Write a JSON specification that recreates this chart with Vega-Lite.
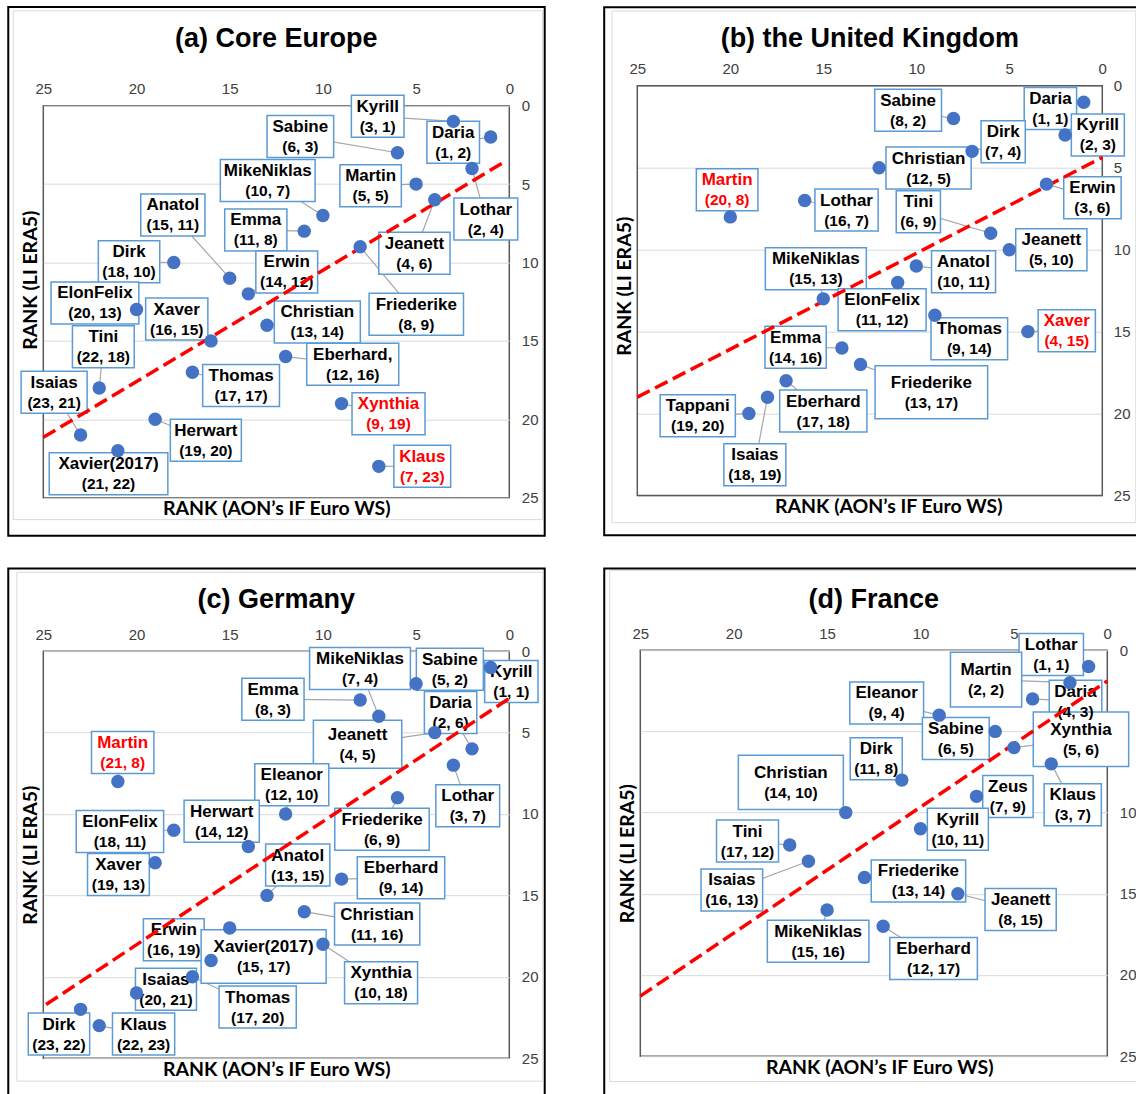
{
"$schema": "https://vega.github.io/schema/vega-lite/v6.json",
"background": "white",
"padding": {"left": 6.3, "top": 4.7, "right": 0, "bottom": 0},
"datasets": {
"pts": [
{"p":"a","name":"Kyrill","coord":"(3, 1)","x":3,"y":1,"lx":7.06,"ly":0.68,"hl":false},
{"p":"a","name":"Sabine","coord":"(6, 3)","x":6,"y":3,"lx":11.21,"ly":1.96,"hl":false},
{"p":"a","name":"Daria","coord":"(1, 2)","x":1,"y":2,"lx":3.01,"ly":2.33,"hl":false},
{"p":"a","name":"MikeNiklas","coord":"(10, 7)","x":10,"y":7,"lx":12.96,"ly":4.77,"hl":false},
{"p":"a","name":"Martin","coord":"(5, 5)","x":5,"y":5,"lx":7.44,"ly":5.10,"hl":false},
{"p":"a","name":"Lothar","coord":"(2, 4)","x":2,"y":4,"lx":1.26,"ly":7.23,"hl":false},
{"p":"a","name":"Anatol","coord":"(15, 11)","x":15,"y":11,"lx":18.05,"ly":6.97,"hl":false},
{"p":"a","name":"Emma","coord":"(11, 8)","x":11,"y":8,"lx":13.60,"ly":7.92,"hl":false},
{"p":"a","name":"Jeanett","coord":"(4, 6)","x":4,"y":6,"lx":5.09,"ly":9.41,"hl":false},
{"p":"a","name":"Dirk","coord":"(18, 10)","x":18,"y":10,"lx":20.40,"ly":9.96,"hl":false},
{"p":"a","name":"Erwin","coord":"(14, 12)","x":14,"y":12,"lx":11.94,"ly":10.60,"hl":false},
{"p":"a","name":"ElonFelix","coord":"(20, 13)","x":20,"y":13,"lx":22.23,"ly":12.58,"hl":false},
{"p":"a","name":"Friederike","coord":"(8, 9)","x":8,"y":9,"lx":4.99,"ly":13.30,"hl":false},
{"p":"a","name":"Xaver","coord":"(16, 15)","x":16,"y":15,"lx":17.84,"ly":13.61,"hl":false},
{"p":"a","name":"Christian","coord":"(13, 14)","x":13,"y":14,"lx":10.30,"ly":13.79,"hl":false},
{"p":"a","name":"Tini","coord":"(22, 18)","x":22,"y":18,"lx":21.78,"ly":15.37,"hl":false},
{"p":"a","name":"Eberhard,","coord":"(12, 16)","x":12,"y":16,"lx":8.40,"ly":16.49,"hl":false},
{"p":"a","name":"Thomas","coord":"(17, 17)","x":17,"y":17,"lx":14.39,"ly":17.85,"hl":false},
{"p":"a","name":"Isaias","coord":"(23, 21)","x":23,"y":21,"lx":24.42,"ly":18.27,"hl":false},
{"p":"a","name":"Xynthia","coord":"(9, 19)","x":9,"y":19,"lx":6.48,"ly":19.64,"hl":true},
{"p":"a","name":"Herwart","coord":"(19, 20)","x":19,"y":20,"lx":16.28,"ly":21.33,"hl":false},
{"p":"a","name":"Xavier(2017)","coord":"(21, 22)","x":21,"y":22,"lx":21.50,"ly":23.48,"hl":false},
{"p":"a","name":"Klaus","coord":"(7, 23)","x":7,"y":23,"lx":4.67,"ly":23.00,"hl":true},
{"p":"b","name":"Sabine","coord":"(8, 2)","x":8,"y":2,"lx":10.44,"ly":1.49,"hl":false},
{"p":"b","name":"Daria","coord":"(1, 1)","x":1,"y":1,"lx":2.79,"ly":1.39,"hl":false},
{"p":"b","name":"Kyrill","coord":"(2, 3)","x":2,"y":3,"lx":0.24,"ly":3.00,"hl":false},
{"p":"b","name":"Dirk","coord":"(7, 4)","x":7,"y":4,"lx":5.33,"ly":3.42,"hl":false},
{"p":"b","name":"Christian","coord":"(12, 5)","x":12,"y":5,"lx":9.34,"ly":5.02,"hl":false},
{"p":"b","name":"Martin","coord":"(20, 8)","x":20,"y":8,"lx":20.17,"ly":6.35,"hl":true},
{"p":"b","name":"Erwin","coord":"(3, 6)","x":3,"y":6,"lx":0.53,"ly":6.83,"hl":false},
{"p":"b","name":"Lothar","coord":"(16, 7)","x":16,"y":7,"lx":13.75,"ly":7.58,"hl":false},
{"p":"b","name":"Tini","coord":"(6, 9)","x":6,"y":9,"lx":9.89,"ly":7.69,"hl":false},
{"p":"b","name":"Jeanett","coord":"(5, 10)","x":5,"y":10,"lx":2.74,"ly":10.00,"hl":false},
{"p":"b","name":"MikeNiklas","coord":"(15, 13)","x":15,"y":13,"lx":15.40,"ly":11.16,"hl":false},
{"p":"b","name":"Anatol","coord":"(10, 11)","x":10,"y":11,"lx":7.46,"ly":11.34,"hl":false},
{"p":"b","name":"ElonFelix","coord":"(11, 12)","x":11,"y":12,"lx":11.84,"ly":13.66,"hl":false},
{"p":"b","name":"Thomas","coord":"(9, 14)","x":9,"y":14,"lx":7.15,"ly":15.44,"hl":false},
{"p":"b","name":"Xaver","coord":"(4, 15)","x":4,"y":15,"lx":1.91,"ly":14.94,"hl":true},
{"p":"b","name":"Emma","coord":"(14, 16)","x":14,"y":16,"lx":16.49,"ly":15.95,"hl":false},
{"p":"b","name":"Friederike","coord":"(13, 17)","x":13,"y":17,"lx":9.19,"ly":18.70,"hl":false},
{"p":"b","name":"Tappani","coord":"(19, 20)","x":19,"y":20,"lx":21.75,"ly":20.13,"hl":false},
{"p":"b","name":"Eberhard","coord":"(17, 18)","x":17,"y":18,"lx":15.00,"ly":19.85,"hl":false},
{"p":"b","name":"Isaias","coord":"(18, 19)","x":18,"y":19,"lx":18.68,"ly":23.13,"hl":false},
{"p":"c","name":"MikeNiklas","coord":"(7, 4)","x":7,"y":4,"lx":8.01,"ly":1.07,"hl":false},
{"p":"c","name":"Sabine","coord":"(5, 2)","x":5,"y":2,"lx":3.19,"ly":1.11,"hl":false},
{"p":"c","name":"Kyrill","coord":"(1, 1)","x":1,"y":1,"lx":-0.11,"ly":1.86,"hl":false},
{"p":"c","name":"Emma","coord":"(8, 3)","x":8,"y":3,"lx":12.68,"ly":2.95,"hl":false},
{"p":"c","name":"Daria","coord":"(2, 6)","x":2,"y":6,"lx":3.15,"ly":3.77,"hl":false},
{"p":"c","name":"Jeanett","coord":"(4, 5)","x":4,"y":5,"lx":8.14,"ly":5.71,"hl":false},
{"p":"c","name":"Martin","coord":"(21, 8)","x":21,"y":8,"lx":20.74,"ly":6.23,"hl":true},
{"p":"c","name":"Eleanor","coord":"(12, 10)","x":12,"y":10,"lx":11.67,"ly":8.20,"hl":false},
{"p":"c","name":"Lothar","coord":"(3, 7)","x":3,"y":7,"lx":2.23,"ly":9.50,"hl":false},
{"p":"c","name":"Herwart","coord":"(14, 12)","x":14,"y":12,"lx":15.43,"ly":10.44,"hl":false},
{"p":"c","name":"ElonFelix","coord":"(18, 11)","x":18,"y":11,"lx":20.89,"ly":11.07,"hl":false},
{"p":"c","name":"Friederike","coord":"(6, 9)","x":6,"y":9,"lx":6.83,"ly":10.94,"hl":false},
{"p":"c","name":"Anatol","coord":"(13, 15)","x":13,"y":15,"lx":11.35,"ly":13.14,"hl":false},
{"p":"c","name":"Xaver","coord":"(19, 13)","x":19,"y":13,"lx":20.97,"ly":13.72,"hl":false},
{"p":"c","name":"Eberhard","coord":"(9, 14)","x":9,"y":14,"lx":5.81,"ly":13.91,"hl":false},
{"p":"c","name":"Christian","coord":"(11, 16)","x":11,"y":16,"lx":7.09,"ly":16.76,"hl":false},
{"p":"c","name":"Erwin","coord":"(16, 19)","x":16,"y":19,"lx":18.00,"ly":17.72,"hl":false},
{"p":"c","name":"Xavier(2017)","coord":"(15, 17)","x":15,"y":17,"lx":13.18,"ly":18.75,"hl":false},
{"p":"c","name":"Xynthia","coord":"(10, 18)","x":10,"y":18,"lx":6.88,"ly":20.36,"hl":false},
{"p":"c","name":"Isaias","coord":"(20, 21)","x":20,"y":21,"lx":18.42,"ly":20.77,"hl":false},
{"p":"c","name":"Thomas","coord":"(17, 20)","x":17,"y":20,"lx":13.50,"ly":21.86,"hl":false},
{"p":"c","name":"Dirk","coord":"(23, 22)","x":23,"y":22,"lx":24.16,"ly":23.52,"hl":false},
{"p":"c","name":"Klaus","coord":"(22, 23)","x":22,"y":23,"lx":19.62,"ly":23.52,"hl":false},
{"p":"d","name":"Lothar","coord":"(1, 1)","x":1,"y":1,"lx":3.00,"ly":0.27,"hl":false},
{"p":"d","name":"Martin","coord":"(2, 2)","x":2,"y":2,"lx":6.49,"ly":1.81,"hl":false},
{"p":"d","name":"Daria","coord":"(4, 3)","x":4,"y":3,"lx":1.70,"ly":3.15,"hl":false},
{"p":"d","name":"Eleanor","coord":"(9, 4)","x":9,"y":4,"lx":11.81,"ly":3.25,"hl":false},
{"p":"d","name":"Xynthia","coord":"(5, 6)","x":5,"y":6,"lx":1.41,"ly":5.48,"hl":false},
{"p":"d","name":"Sabine","coord":"(6, 5)","x":6,"y":5,"lx":8.11,"ly":5.44,"hl":false},
{"p":"d","name":"Dirk","coord":"(11, 8)","x":11,"y":8,"lx":12.37,"ly":6.68,"hl":false},
{"p":"d","name":"Christian","coord":"(14, 10)","x":14,"y":10,"lx":16.94,"ly":8.14,"hl":false},
{"p":"d","name":"Zeus","coord":"(7, 9)","x":7,"y":9,"lx":5.32,"ly":9.01,"hl":false},
{"p":"d","name":"Klaus","coord":"(3, 7)","x":3,"y":7,"lx":1.85,"ly":9.51,"hl":false},
{"p":"d","name":"Kyrill","coord":"(10, 11)","x":10,"y":11,"lx":8.00,"ly":11.02,"hl":false},
{"p":"d","name":"Tini","coord":"(17, 12)","x":17,"y":12,"lx":19.26,"ly":11.75,"hl":false},
{"p":"d","name":"Isaias","coord":"(16, 13)","x":16,"y":13,"lx":20.10,"ly":14.76,"hl":false},
{"p":"d","name":"Friederike","coord":"(13, 14)","x":13,"y":14,"lx":10.11,"ly":14.21,"hl":false},
{"p":"d","name":"Jeanett","coord":"(8, 15)","x":8,"y":15,"lx":4.64,"ly":15.97,"hl":false},
{"p":"d","name":"MikeNiklas","coord":"(15, 16)","x":15,"y":16,"lx":15.48,"ly":17.93,"hl":false},
{"p":"d","name":"Eberhard","coord":"(12, 17)","x":12,"y":17,"lx":9.30,"ly":18.98,"hl":false}
],
"lines": [
{"p":"a","x":25,"y":21.15},{"p":"a","x":0.15,"y":3.5},
{"p":"b","x":25,"y":19.0},{"p":"b","x":0,"y":4.37},
{"p":"c","x":24.85,"y":21.7},{"p":"c","x":0,"y":2.9},
{"p":"d","x":25,"y":21.3},{"p":"d","x":0,"y":1.9}
]
},
"columns": 2,
"align": "none",
"spacing": {"row": 28.5, "column": 55},
"resolve": {"scale": {"shape": "independent"}},
"concat": [
{
"width": 466, "height": 392,
"title": {"text": "(a) Core Europe", "offset": -47.3},
"data": {"name": "pts"},
"transform": [{"filter": "datum.p === 'a'"}],
"resolve": {"axis": {"x": "independent", "y": "independent"}},
"layer": [
{"data": {"values": [{"p":"a"}]}, "mark": {"type": "rect", "fillOpacity": 0, "stroke": "#000000", "strokeWidth": 2},
 "encoding": {"x": {"datum": 26.88, "type": "quantitative", "scale": {"domain":[0,25],"reverse":true,"nice":false,"zero":false}, "axis": null}, "x2": {"datum": -1.90},
 "y": {"datum": -6.29, "type": "quantitative", "scale": {"domain":[0,25],"reverse":true,"nice":false,"zero":false}, "axis": null}, "y2": {"datum": 27.42}}},
{"data": {"values": [{"p":"a"}]}, "mark": {"type": "rect", "fillOpacity": 0, "stroke": "#D9D9D9", "strokeWidth": 1},
 "encoding": {"x": {"datum": 26.61, "type": "quantitative", "scale": {"domain":[0,25],"reverse":true,"nice":false,"zero":false}, "axis": null}, "x2": {"datum": -1.78},
 "y": {"datum": -6.05, "type": "quantitative", "scale": {"domain":[0,25],"reverse":true,"nice":false,"zero":false}, "axis": null}, "y2": {"datum": 26.40}}},
{"mark": {"type": "rule", "color": "#A6A6A6", "strokeWidth": 1.2},
 "encoding": {"x": {"field": "x", "type": "quantitative", "scale": {"domain":[0,25],"reverse":true,"nice":false,"zero":false}, "axis": null}, "x2": {"field": "lx"},
 "y": {"field": "y", "type": "quantitative", "scale": {"domain":[0,25],"reverse":true,"nice":false,"zero":false}, "axis": null}, "y2": {"field": "ly"}}},
{"mark": {"type": "point", "fill": "#FFFFFF", "stroke": "#5B9BD5", "strokeWidth": 1.5, "size": 4, "opacity": 1},
 "encoding": {"x": {"field": "lx", "type": "quantitative", "scale": {"domain":[0,25],"reverse":true,"nice":false,"zero":false}, "axis": null},
 "y": {"field": "ly", "type": "quantitative", "scale": {"domain":[0,25],"reverse":true,"nice":false,"zero":false}, "axis": null},
 "shape": {"field": "name", "type": "nominal", "legend": null, "scale": {
  "domain": ["Kyrill","Sabine","Daria","MikeNiklas","Martin","Lothar","Anatol","Emma","Jeanett","Dirk","Erwin","ElonFelix","Friederike","Xaver","Christian","Tini","Eberhard,","Thomas","Isaias","Xynthia","Herwart","Xavier(2017)","Klaus"],
  "range": ["M-26.3,-21H26.3V21H-26.3Z","M-33.3,-21H33.3V21H-33.3Z","M-26.3,-21H26.3V21H-26.3Z","M-47.4,-21H47.4V21H-47.4Z","M-30.7,-21H30.7V21H-30.7Z","M-31.9,-21H31.9V21H-31.9Z","M-32.1,-21H32.1V21H-32.1Z","M-31.1,-21H31.1V21H-31.1Z","M-35.6,-21H35.6V21H-35.6Z","M-30.7,-21H30.7V21H-30.7Z","M-30.9,-21H30.9V21H-30.9Z","M-43.9,-21H43.9V21H-43.9Z","M-47.2,-21H47.2V21H-47.2Z","M-31.1,-21H31.1V21H-31.1Z","M-43,-21H43V21H-43Z","M-30.9,-21H30.9V21H-30.9Z","M-46,-21H46V21H-46Z","M-38.4,-21H38.4V21H-38.4Z","M-33,-21H33V21H-33Z","M-36.5,-21H36.5V21H-36.5Z","M-35.5,-21H35.5V21H-35.5Z","M-59.3,-21H59.3V21H-59.3Z","M-28.4,-21H28.4V21H-28.4Z"]}}}},
{"mark": {"type": "text", "fontSize": 17, "dy": -9.5},
 "encoding": {"x": {"field": "lx", "type": "quantitative", "scale": {"domain":[0,25],"reverse":true,"nice":false,"zero":false}, "axis": null},
 "y": {"field": "ly", "type": "quantitative", "scale": {"domain":[0,25],"reverse":true,"nice":false,"zero":false}, "axis": null},
 "text": {"field": "name"}, "color": {"condition": {"test": "datum.hl", "value": "#FF0000"}, "value": "#000000"}}},
{"mark": {"type": "text", "fontSize": 15.5, "dy": 10.5},
 "encoding": {"x": {"field": "lx", "type": "quantitative", "scale": {"domain":[0,25],"reverse":true,"nice":false,"zero":false}, "axis": null},
 "y": {"field": "ly", "type": "quantitative", "scale": {"domain":[0,25],"reverse":true,"nice":false,"zero":false}, "axis": null},
 "text": {"field": "coord"}, "color": {"condition": {"test": "datum.hl", "value": "#FF0000"}, "value": "#000000"}}},
{"data": {"name": "lines"}, "transform": [{"filter": "datum.p === 'a'"}],
 "mark": {"type": "line", "color": "#FF0000", "strokeWidth": 3.5, "strokeDash": [14, 6]},
 "encoding": {"x": {"field": "x", "type": "quantitative", "scale": {"domain":[0,25],"reverse":true,"nice":false,"zero":false}, "axis": {"orient": "bottom", "title": "RANK (AON’s IF Euro WS)", "labels": false, "grid": false, "titlePadding": 2}},
 "y": {"field": "y", "type": "quantitative", "scale": {"domain":[0,25],"reverse":true,"nice":false,"zero":false}, "axis": {"orient": "left", "title": "RANK (LI ERA5)", "labels": false, "grid": false, "titlePadding": 3, "titleY": 174}}}},
{"mark": {"type": "circle", "color": "#4472C4", "size": 180, "opacity": 1},
 "encoding": {"x": {"field": "x", "type": "quantitative", "scale": {"domain":[0,25],"reverse":true,"nice":false,"zero":false}, "axis": {"orient": "top", "values": [0,5,10,15,20,25], "title": null, "grid": false, "labelPadding": 9}},
 "y": {"field": "y", "type": "quantitative", "scale": {"domain":[0,25],"reverse":true,"nice":false,"zero":false}, "axis": {"orient": "right", "values": [0,5,10,15,20,25], "title": null, "grid": true, "labelPadding": 12, "labelAlign": "left"}}}}
]
},
{
"width": 465, "height": 390,
"view": {"stroke": null},
"title": {"text": "(b) the United Kingdom", "offset": -47.3},
"data": {"name": "pts"},
"transform": [{"filter": "datum.p === 'b'"}],
"resolve": {"axis": {"x": "independent", "y": "independent"}},
"layer": [
{"data": {"values": [{"p":"b"}]}, "mark": {"type": "rect", "fillOpacity": 0, "stroke": "#000000", "strokeWidth": 2},
 "encoding": {"x": {"datum": 26.78, "type": "quantitative", "scale": {"domain":[0,25],"reverse":true,"nice":false,"zero":false}, "axis": null}, "x2": {"datum": -2.0},
 "y": {"datum": -4.80, "type": "quantitative", "scale": {"domain":[0,25],"range":[-19.9,389.8],"nice":false,"zero":false}, "axis": null}, "y2": {"datum": 27.43}}},
{"data": {"values": [{"p":"b"}]}, "mark": {"type": "rect", "fillOpacity": 0, "stroke": "#D9D9D9", "strokeWidth": 1},
 "encoding": {"x": {"datum": 26.36, "type": "quantitative", "scale": {"domain":[0,25],"reverse":true,"nice":false,"zero":false}, "axis": null}, "x2": {"datum": -1.8},
 "y": {"datum": -4.57, "type": "quantitative", "scale": {"domain":[0,25],"range":[-19.9,389.8],"nice":false,"zero":false}, "axis": null}, "y2": {"datum": 26.66}}},
{"data": {"values": [{"p":"b"}]}, "mark": {"type": "rect", "fillOpacity": 0, "stroke": "#595959", "strokeWidth": 1.5},
 "encoding": {"x": {"datum": 25, "type": "quantitative", "scale": {"domain":[0,25],"reverse":true,"nice":false,"zero":false}, "axis": null}, "x2": {"datum": 0},
 "y": {"datum": 0, "type": "quantitative", "scale": {"domain":[0,25],"range":[-19.9,389.8],"nice":false,"zero":false}, "axis": null}, "y2": {"datum": 25}}},
{"mark": {"type": "rule", "color": "#A6A6A6", "strokeWidth": 1.2},
 "encoding": {"x": {"field": "x", "type": "quantitative", "scale": {"domain":[0,25],"reverse":true,"nice":false,"zero":false}, "axis": null}, "x2": {"field": "lx"},
 "y": {"field": "y", "type": "quantitative", "scale": {"domain":[0,25],"range":[-19.9,389.8],"nice":false,"zero":false}, "axis": null}, "y2": {"field": "ly"}}},
{"mark": {"type": "point", "fill": "#FFFFFF", "stroke": "#5B9BD5", "strokeWidth": 1.5, "size": 4, "opacity": 1},
 "encoding": {"x": {"field": "lx", "type": "quantitative", "scale": {"domain":[0,25],"reverse":true,"nice":false,"zero":false}, "axis": null},
 "y": {"field": "ly", "type": "quantitative", "scale": {"domain":[0,25],"range":[-19.9,389.8],"nice":false,"zero":false}, "axis": null},
 "shape": {"field": "name", "type": "nominal", "legend": null, "scale": {
  "domain": ["Sabine","Daria","Kyrill","Dirk","Christian","Martin","Erwin","Lothar","Tini","Jeanett","MikeNiklas","Anatol","ElonFelix","Thomas","Xaver","Emma","Friederike","Tappani","Eberhard","Isaias"],
  "range": ["M-33.4,-21H33.4V21H-33.4Z","M-26.2,-21H26.2V21H-26.2Z","M-26.5,-21H26.5V21H-26.5Z","M-22.1,-21H22.1V21H-22.1Z","M-42.6,-21H42.6V21H-42.6Z","M-30.8,-21H30.8V21H-30.8Z","M-28.7,-21H28.7V21H-28.7Z","M-31.6,-21H31.6V21H-31.6Z","M-22.1,-21H22.1V21H-22.1Z","M-35.6,-21H35.6V21H-35.6Z","M-50.5,-21H50.5V21H-50.5Z","M-32,-21H32V21H-32Z","M-44,-21H44V21H-44Z","M-38.3,-21H38.3V21H-38.3Z","M-28.6,-21H28.6V21H-28.6Z","M-30.6,-21H30.6V21H-30.6Z","M-56.3,-26.4H56.3V26.4H-56.3Z","M-37.6,-21H37.6V21H-37.6Z","M-43.6,-21H43.6V21H-43.6Z","M-31,-21H31V21H-31Z"]}}}},
{"mark": {"type": "text", "fontSize": 17, "dy": -9.5},
 "encoding": {"x": {"field": "lx", "type": "quantitative", "scale": {"domain":[0,25],"reverse":true,"nice":false,"zero":false}, "axis": null},
 "y": {"field": "ly", "type": "quantitative", "scale": {"domain":[0,25],"range":[-19.9,389.8],"nice":false,"zero":false}, "axis": null},
 "text": {"field": "name"}, "color": {"condition": {"test": "datum.hl", "value": "#FF0000"}, "value": "#000000"}}},
{"mark": {"type": "text", "fontSize": 15.5, "dy": 10.5},
 "encoding": {"x": {"field": "lx", "type": "quantitative", "scale": {"domain":[0,25],"reverse":true,"nice":false,"zero":false}, "axis": null},
 "y": {"field": "ly", "type": "quantitative", "scale": {"domain":[0,25],"range":[-19.9,389.8],"nice":false,"zero":false}, "axis": null},
 "text": {"field": "coord"}, "color": {"condition": {"test": "datum.hl", "value": "#FF0000"}, "value": "#000000"}}},
{"data": {"name": "lines"}, "transform": [{"filter": "datum.p === 'b'"}],
 "mark": {"type": "line", "color": "#FF0000", "strokeWidth": 3.5, "strokeDash": [14, 6]},
 "encoding": {"x": {"field": "x", "type": "quantitative", "scale": {"domain":[0,25],"reverse":true,"nice":false,"zero":false}, "axis": {"orient": "bottom", "title": "RANK (AON’s IF Euro WS)", "labels": false, "grid": false, "titlePadding": 2, "titleX": 251}},
 "y": {"field": "y", "type": "quantitative", "scale": {"domain":[0,25],"range":[-19.9,389.8],"nice":false,"zero":false}, "axis": {"orient": "left", "title": "RANK (LI ERA5)", "labels": false, "grid": false, "titlePadding": 3, "titleY": 180}}}},
{"mark": {"type": "circle", "color": "#4472C4", "size": 180, "opacity": 1},
 "encoding": {"x": {"field": "x", "type": "quantitative", "scale": {"domain":[0,25],"reverse":true,"nice":false,"zero":false}, "axis": {"orient": "top", "values": [0,5,10,15,20,25], "title": null, "grid": false, "labelPadding": 9, "offset": 19.9}},
 "y": {"field": "y", "type": "quantitative", "scale": {"domain":[0,25],"range":[-19.9,389.8],"nice":false,"zero":false}, "axis": {"orient": "right", "values": [0,5,10,15,20,25], "title": null, "grid": true, "labelPadding": 11, "labelAlign": "left"}}}}
]
},
{
"width": 466, "height": 407,
"title": {"text": "(c) Germany", "offset": -46.2},
"data": {"name": "pts"},
"transform": [{"filter": "datum.p === 'c'"}],
"resolve": {"axis": {"x": "independent", "y": "independent"}},
"layer": [
{"data": {"values": [{"p":"c"}]}, "mark": {"type": "rect", "fillOpacity": 0, "stroke": "#000000", "strokeWidth": 2},
 "encoding": {"x": {"datum": 26.88, "type": "quantitative", "scale": {"domain":[0,25],"reverse":true,"nice":false,"zero":false}, "axis": null}, "x2": {"datum": -1.90},
 "y": {"datum": -5.08, "type": "quantitative", "scale": {"domain":[0,25],"reverse":true,"nice":false,"zero":false}, "axis": null}, "y2": {"datum": 27.58}}},
{"data": {"values": [{"p":"c"}]}, "mark": {"type": "rect", "fillOpacity": 0, "stroke": "#D9D9D9", "strokeWidth": 1},
 "encoding": {"x": {"datum": 26.42, "type": "quantitative", "scale": {"domain":[0,25],"reverse":true,"nice":false,"zero":false}, "axis": null}, "x2": {"datum": -1.80},
 "y": {"datum": -4.85, "type": "quantitative", "scale": {"domain":[0,25],"reverse":true,"nice":false,"zero":false}, "axis": null}, "y2": {"datum": 26.41}}},
{"mark": {"type": "rule", "color": "#A6A6A6", "strokeWidth": 1.2},
 "encoding": {"x": {"field": "x", "type": "quantitative", "scale": {"domain":[0,25],"reverse":true,"nice":false,"zero":false}, "axis": null}, "x2": {"field": "lx"},
 "y": {"field": "y", "type": "quantitative", "scale": {"domain":[0,25],"reverse":true,"nice":false,"zero":false}, "axis": null}, "y2": {"field": "ly"}}},
{"mark": {"type": "point", "fill": "#FFFFFF", "stroke": "#5B9BD5", "strokeWidth": 1.5, "size": 4, "opacity": 1},
 "encoding": {"x": {"field": "lx", "type": "quantitative", "scale": {"domain":[0,25],"reverse":true,"nice":false,"zero":false}, "axis": null},
 "y": {"field": "ly", "type": "quantitative", "scale": {"domain":[0,25],"reverse":true,"nice":false,"zero":false}, "axis": null},
 "shape": {"field": "name", "type": "nominal", "legend": null, "scale": {
  "domain": ["MikeNiklas","Sabine","Kyrill","Emma","Daria","Jeanett","Martin","Eleanor","Lothar","Herwart","ElonFelix","Friederike","Anatol","Xaver","Eberhard","Christian","Erwin","Xavier(2017)","Xynthia","Isaias","Thomas","Dirk","Klaus"],
  "range": ["M-50.4,-21H50.4V21H-50.4Z","M-33.5,-21H33.5V21H-33.5Z","M-26.7,-21H26.7V21H-26.7Z","M-31.1,-21H31.1V21H-31.1Z","M-26.2,-21H26.2V21H-26.2Z","M-44.2,-24H44.2V24H-44.2Z","M-31.2,-21H31.2V21H-31.2Z","M-37,-21H37V21H-37Z","M-31.9,-21H31.9V21H-31.9Z","M-37.6,-21H37.6V21H-37.6Z","M-43.7,-21H43.7V21H-43.7Z","M-47.2,-21H47.2V21H-47.2Z","M-32.1,-21H32.1V21H-32.1Z","M-30.9,-21H30.9V21H-30.9Z","M-43.7,-21H43.7V21H-43.7Z","M-42.6,-21H42.6V21H-42.6Z","M-30.4,-21H30.4V21H-30.4Z","M-62.5,-26.8H62.5V26.8H-62.5Z","M-36.5,-21H36.5V21H-36.5Z","M-30.5,-21H30.5V21H-30.5Z","M-38.6,-21H38.6V21H-38.6Z","M-30.7,-21H30.7V21H-30.7Z","M-31.1,-21H31.1V21H-31.1Z"]}}}},
{"mark": {"type": "text", "fontSize": 17, "dy": -9.5},
 "encoding": {"x": {"field": "lx", "type": "quantitative", "scale": {"domain":[0,25],"reverse":true,"nice":false,"zero":false}, "axis": null},
 "y": {"field": "ly", "type": "quantitative", "scale": {"domain":[0,25],"reverse":true,"nice":false,"zero":false}, "axis": null},
 "text": {"field": "name"}, "color": {"condition": {"test": "datum.hl", "value": "#FF0000"}, "value": "#000000"}}},
{"mark": {"type": "text", "fontSize": 15.5, "dy": 10.5},
 "encoding": {"x": {"field": "lx", "type": "quantitative", "scale": {"domain":[0,25],"reverse":true,"nice":false,"zero":false}, "axis": null},
 "y": {"field": "ly", "type": "quantitative", "scale": {"domain":[0,25],"reverse":true,"nice":false,"zero":false}, "axis": null},
 "text": {"field": "coord"}, "color": {"condition": {"test": "datum.hl", "value": "#FF0000"}, "value": "#000000"}}},
{"data": {"name": "lines"}, "transform": [{"filter": "datum.p === 'c'"}],
 "mark": {"type": "line", "color": "#FF0000", "strokeWidth": 3.5, "strokeDash": [14, 6]},
 "encoding": {"x": {"field": "x", "type": "quantitative", "scale": {"domain":[0,25],"reverse":true,"nice":false,"zero":false}, "axis": {"orient": "bottom", "title": "RANK (AON’s IF Euro WS)", "labels": false, "grid": false, "titlePadding": 2}},
 "y": {"field": "y", "type": "quantitative", "scale": {"domain":[0,25],"reverse":true,"nice":false,"zero":false}, "axis": {"orient": "left", "title": "RANK (LI ERA5)", "labels": false, "grid": false, "titlePadding": 3}}}},
{"mark": {"type": "circle", "color": "#4472C4", "size": 180, "opacity": 1},
 "encoding": {"x": {"field": "x", "type": "quantitative", "scale": {"domain":[0,25],"reverse":true,"nice":false,"zero":false}, "axis": {"orient": "top", "values": [0,5,10,15,20,25], "title": null, "grid": false, "labelPadding": 9}},
 "y": {"field": "y", "type": "quantitative", "scale": {"domain":[0,25],"reverse":true,"nice":false,"zero":false}, "axis": {"orient": "right", "values": [0,5,10,15,20,25], "title": null, "grid": true, "labelPadding": 12, "labelAlign": "left"}}}}
]
},
{
"width": 467, "height": 406,
"title": {"text": "(d) France", "offset": -46.2},
"data": {"name": "pts"},
"transform": [{"filter": "datum.p === 'd'"}],
"resolve": {"axis": {"x": "independent", "y": "independent"}},
"layer": [
{"data": {"values": [{"p":"d"}]}, "mark": {"type": "rect", "fillOpacity": 0, "stroke": "#000000", "strokeWidth": 2},
 "encoding": {"x": {"datum": 26.93, "type": "quantitative", "scale": {"domain":[0,25],"reverse":true,"nice":false,"zero":false}, "axis": null}, "x2": {"datum": -1.87},
 "y": {"datum": -5.03, "type": "quantitative", "scale": {"domain":[0,25],"reverse":true,"nice":false,"zero":false}, "axis": null}, "y2": {"datum": 27.73}}},
{"data": {"values": [{"p":"d"}]}, "mark": {"type": "rect", "fillOpacity": 0, "stroke": "#D9D9D9", "strokeWidth": 1},
 "encoding": {"x": {"datum": 26.64, "type": "quantitative", "scale": {"domain":[0,25],"reverse":true,"nice":false,"zero":false}, "axis": null}, "x2": {"datum": -1.71},
 "y": {"datum": -4.91, "type": "quantitative", "scale": {"domain":[0,25],"reverse":true,"nice":false,"zero":false}, "axis": null}, "y2": {"datum": 26.56}}},
{"mark": {"type": "rule", "color": "#A6A6A6", "strokeWidth": 1.2},
 "encoding": {"x": {"field": "x", "type": "quantitative", "scale": {"domain":[0,25],"reverse":true,"nice":false,"zero":false}, "axis": null}, "x2": {"field": "lx"},
 "y": {"field": "y", "type": "quantitative", "scale": {"domain":[0,25],"reverse":true,"nice":false,"zero":false}, "axis": null}, "y2": {"field": "ly"}}},
{"mark": {"type": "point", "fill": "#FFFFFF", "stroke": "#5B9BD5", "strokeWidth": 1.5, "size": 4, "opacity": 1},
 "encoding": {"x": {"field": "lx", "type": "quantitative", "scale": {"domain":[0,25],"reverse":true,"nice":false,"zero":false}, "axis": null},
 "y": {"field": "ly", "type": "quantitative", "scale": {"domain":[0,25],"reverse":true,"nice":false,"zero":false}, "axis": null},
 "shape": {"field": "name", "type": "nominal", "legend": null, "scale": {
  "domain": ["Lothar","Martin","Daria","Eleanor","Xynthia","Sabine","Dirk","Christian","Zeus","Klaus","Kyrill","Tini","Isaias","Friederike","Jeanett","MikeNiklas","Eberhard"],
  "range": ["M-32.2,-21H32.2V21H-32.2Z","M-35.6,-27.3H35.6V27.3H-35.6Z","M-26.3,-21H26.3V21H-26.3Z","M-36.9,-21H36.9V21H-36.9Z","M-47.7,-27.3H47.7V27.3H-47.7Z","M-33.4,-21H33.4V21H-33.4Z","M-26,-21H26V21H-26Z","M-52.5,-27.1H52.5V27.1H-52.5Z","M-25.2,-21H25.2V21H-25.2Z","M-28.6,-21H28.6V21H-28.6Z","M-30.5,-21H30.5V21H-30.5Z","M-31,-21H31V21H-31Z","M-30.8,-21H30.8V21H-30.8Z","M-47.2,-21H47.2V21H-47.2Z","M-35.6,-21H35.6V21H-35.6Z","M-50.8,-21H50.8V21H-50.8Z","M-43.8,-21H43.8V21H-43.8Z"]}}}},
{"mark": {"type": "text", "fontSize": 17, "dy": -9.5},
 "encoding": {"x": {"field": "lx", "type": "quantitative", "scale": {"domain":[0,25],"reverse":true,"nice":false,"zero":false}, "axis": null},
 "y": {"field": "ly", "type": "quantitative", "scale": {"domain":[0,25],"reverse":true,"nice":false,"zero":false}, "axis": null},
 "text": {"field": "name"}, "color": {"condition": {"test": "datum.hl", "value": "#FF0000"}, "value": "#000000"}}},
{"mark": {"type": "text", "fontSize": 15.5, "dy": 10.5},
 "encoding": {"x": {"field": "lx", "type": "quantitative", "scale": {"domain":[0,25],"reverse":true,"nice":false,"zero":false}, "axis": null},
 "y": {"field": "ly", "type": "quantitative", "scale": {"domain":[0,25],"reverse":true,"nice":false,"zero":false}, "axis": null},
 "text": {"field": "coord"}, "color": {"condition": {"test": "datum.hl", "value": "#FF0000"}, "value": "#000000"}}},
{"data": {"name": "lines"}, "transform": [{"filter": "datum.p === 'd'"}],
 "mark": {"type": "line", "color": "#FF0000", "strokeWidth": 3.5, "strokeDash": [14, 6]},
 "encoding": {"x": {"field": "x", "type": "quantitative", "scale": {"domain":[0,25],"reverse":true,"nice":false,"zero":false}, "axis": {"orient": "bottom", "title": "RANK (AON’s IF Euro WS)", "labels": false, "grid": false, "titlePadding": 2, "titleX": 239}},
 "y": {"field": "y", "type": "quantitative", "scale": {"domain":[0,25],"reverse":true,"nice":false,"zero":false}, "axis": {"orient": "left", "title": "RANK (LI ERA5)", "labels": false, "grid": false, "titlePadding": 3}}}},
{"mark": {"type": "circle", "color": "#4472C4", "size": 180, "opacity": 1},
 "encoding": {"x": {"field": "x", "type": "quantitative", "scale": {"domain":[0,25],"reverse":true,"nice":false,"zero":false}, "axis": {"orient": "top", "values": [0,5,10,15,20,25], "title": null, "grid": false, "labelPadding": 9}},
 "y": {"field": "y", "type": "quantitative", "scale": {"domain":[0,25],"reverse":true,"nice":false,"zero":false}, "axis": {"orient": "right", "values": [0,5,10,15,20,25], "title": null, "grid": true, "labelPadding": 12, "labelAlign": "left"}}}}
]
}
],
"config": {
 "view": {"stroke": "#595959", "strokeWidth": 1.5},
 "axis": {"ticks": false, "tickSize": 0, "domain": false, "labelFont": "Liberation Sans", "labelFontSize": 15, "labelColor": "#404040", "labelFlush": false, "labelOverlap": false, "titleFont": "Lato", "titleFontSize": 19.5, "titleFontWeight": "bold", "titleColor": "#000000", "gridColor": "#D9D9D9", "gridWidth": 1},
 "title": {"font": "Liberation Sans", "fontSize": 27, "fontWeight": "bold", "color": "#000000", "anchor": "middle", "frame": "group"},
 "text": {"font": "Liberation Sans", "fontWeight": "bold", "baseline": "middle", "align": "center"}
}
}
